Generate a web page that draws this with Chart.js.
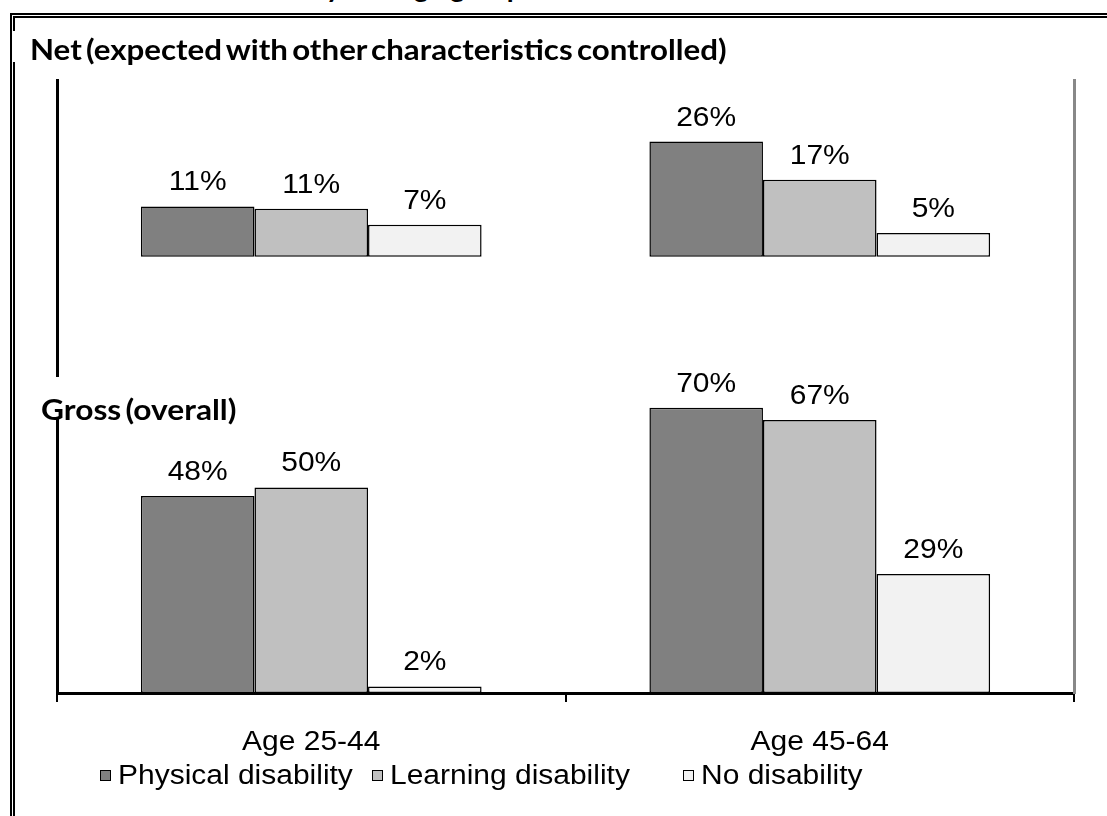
<!DOCTYPE html>
<html>
<head>
<meta charset="utf-8">
<script src="https://cdn.jsdelivr.net/npm/chart.js@4.4.0/dist/chart.umd.min.js"></script>
<style>
  html, body { margin: 0; padding: 0; background: #fff; }
  body { width: 1107px; height: 816px; position: relative; overflow: hidden; }
  #frame { position: absolute; left: 10px; top: 13px; width: 1200px; height: 900px; border: 5px double #000; }
  #chart { position: absolute; left: 0; top: 0; }
  .cover { position: absolute; background: #fff; }
  .heading { position: absolute; font-family: Lato, "Open Sans", sans-serif; font-weight: bold; font-size: 28px;
             line-height: 28px; white-space: nowrap; color: #000; word-spacing: -3px; transform-origin: 0 0; }
  #topTitle { position: absolute; top: -28px; font-family: Lato, sans-serif; font-weight: bold; font-size: 28px;
              line-height: 28px; white-space: nowrap; color: #000; }
  .legend-item { position: absolute; top: 761px; height: 28px; white-space: nowrap; }
  .legend-box { position: absolute; left: 0; top: 9px; width: 9px; height: 9px; border: 1.5px solid #000; }
  .legend-text { position: absolute; left: 18px; top: 0; font-family: "Liberation Sans", Arial, sans-serif;
                 font-size: 27px; line-height: 28px; transform: scaleX(1.11); transform-origin: 0 0; }
</style>
</head>
<body>
<div id="frame"></div>
<div id="topTitle"><span id="tPre">Worklessness rates for disabilit</span><span id="tY">y</span> and age group</div>
<canvas id="chart" width="1107" height="816"></canvas>
<div class="cover" style="left:13px; top:31px; width:718px; height:31px;"></div>
<div class="cover" style="left:38px; top:377px; width:202px; height:41px;"></div>
<div class="heading" id="netLabel" style="left:30px; top:35px;">Net (expected with other characteristics controlled)</div>
<div class="heading" id="grossLabel" style="left:41px; top:395px;">Gross (overall)</div>
<div id="legend"></div>
<script>
const categories = ['Age 25-44', 'Age 45-64'];
const seriesNames = ['Physical disability', 'Learning disability', 'No disability'];
const seriesColors = ['#808080', '#c0c0c0', '#f2f2f2'];

// Gross (overall), % per age group
const grossPhysical = [48.2, 69.8];
const grossLearning = [50.3, 66.8];
const grossNone = [1.6, 29.1];

// Net (expected with other characteristics controlled), % per age group
const netPhysical = [11.2, 25.6];
const netLearning = [10.7, 17.1];
const netNone = [7.1, 5.3];

const grossData = [grossPhysical, grossLearning, grossNone];
const netData = [netPhysical, netLearning, netNone];

// headings are squeezed/stretched to the width they take in the original
function fitWidth(id, target) {
  const el = document.getElementById(id);
  el.style.transform = 'scaleX(' + (target / el.offsetWidth) + ')';
}
fitWidth('netLabel', 696);
fitWidth('grossLabel', 196);

// cut-off title above the frame
const tPre = document.getElementById('tPre');
const tY = document.getElementById('tY');
document.getElementById('topTitle').style.left = (333 - tPre.offsetWidth - tY.offsetWidth / 2) + 'px';

function drawStretched(ctx, text, x, y) {
  ctx.save();
  ctx.translate(x, y);
  ctx.scale(1.11, 1);
  ctx.fillText(text, 0, 0);
  ctx.restore();
}

const labelPlugin = {
  id: 'barLabels',
  afterDraw(chart) {
    const ctx = chart.ctx;
    ctx.save();
    ctx.font = '27px "Liberation Sans", Arial, sans-serif';
    ctx.fillStyle = '#000';
    ctx.textAlign = 'center';
    ctx.textBaseline = 'alphabetic';
    chart.data.datasets.forEach((ds, i) => {
      chart.getDatasetMeta(i).data.forEach((bar, j) => {
        drawStretched(ctx, Math.round(ds.data[j]) + '%', bar.x, bar.y - 16);
      });
    });
    const xScale = chart.scales.x;
    categories.forEach((c, i) => {
      drawStretched(ctx, c, xScale.getPixelForValue(i), 750);
    });
    ctx.restore();
  }
};

const datasets = [];
seriesNames.forEach((name, i) => {
  datasets.push({
    label: name, data: grossData[i], yAxisID: 'y', stack: 's' + i,
    backgroundColor: seriesColors[i], borderColor: '#000', borderWidth: 1.5, borderSkipped: false
  });
  datasets.push({
    label: name, data: netData[i], yAxisID: 'y2', stack: 's' + i,
    backgroundColor: seriesColors[i], borderColor: '#000', borderWidth: 1.5, borderSkipped: false
  });
});

const chart = new Chart(document.getElementById('chart'), {
  type: 'bar',
  data: { labels: categories, datasets: datasets },
  options: {
    responsive: false,
    animation: false,
    layout: { padding: { left: 57, right: 33, top: 80, bottom: 114 } },
    datasets: { bar: { categoryPercentage: 0.67, barPercentage: 1 } },
    plugins: { legend: { display: false }, tooltip: { enabled: false } },
    scales: {
      x: {
        grid: { display: true, drawOnChartArea: false, drawTicks: true, tickLength: 9, color: '#000', lineWidth: 2 },
        border: { color: '#000', width: 3 },
        ticks: { display: false }
      },
      y: {
        position: 'left', min: 0, max: 150,
        grid: { display: false, drawTicks: false }, ticks: { display: false },
        border: { color: '#000', width: 3 }
      },
      y2: {
        position: 'right', min: -97, max: 39.3,
        grid: { display: false, drawTicks: false }, ticks: { display: false },
        border: { color: '#888', width: 3 }
      }
    }
  },
  plugins: [labelPlugin]
});

// legend
const legendLefts = [100, 372, 683];
const legend = document.getElementById('legend');
seriesNames.forEach((name, i) => {
  const item = document.createElement('div');
  item.className = 'legend-item';
  item.style.left = legendLefts[i] + 'px';
  item.innerHTML = '<span class="legend-box" style="background:' + seriesColors[i] + '"></span>' +
                   '<span class="legend-text">' + name + '</span>';
  legend.appendChild(item);
});
</script>
</body>
</html>
